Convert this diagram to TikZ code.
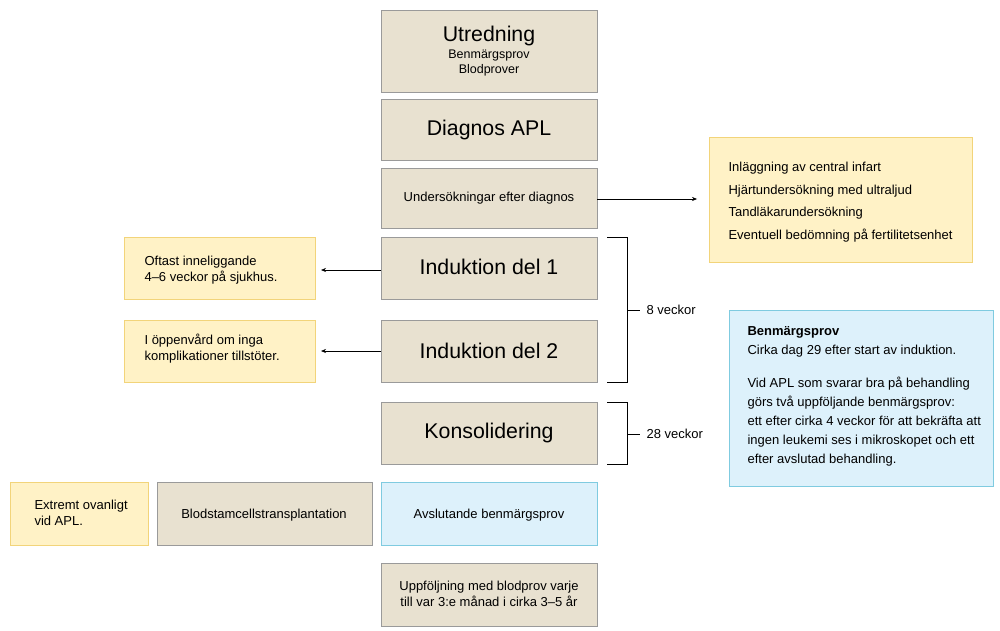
\documentclass[tikz,border=0pt]{standalone}
\usepackage{fontspec}
\setmainfont{Liberation Sans}
\usetikzlibrary{arrows.meta}
\definecolor{beige}{HTML}{E8E1D0}
\definecolor{beigeb}{HTML}{9A9A9A}
\definecolor{yel}{HTML}{FFF2C6}
\definecolor{yelb}{HTML}{F2D47A}
\definecolor{blu}{HTML}{DDF1FB}
\definecolor{blub}{HTML}{7FCBE0}
\begin{document}
\begin{tikzpicture}[x=1pt,y=-1pt,
 box/.style={draw=beigeb,fill=beige,line width=0.8pt},
 ybox/.style={draw=yelb,fill=yel,line width=0.8pt},
 bbox/.style={draw=blub,fill=blu,line width=0.8pt},
 arr/.style={-{Stealth[length=5pt,width=4pt]},line width=0.6pt},
 br/.style={line width=0.6pt},
 sm/.style={font=\fontsize{13}{16}\selectfont},
 big/.style={font=\fontsize{21.3}{24}\selectfont}]
\useasboundingbox (0,0) rectangle (1000,631);
\draw[box] (381,10) rectangle (597,92);
\node[big] (ut) at (489,36) {Utredning};
\node[sm,align=center,font=\fontsize{12.5}{15}\selectfont] (ut2) at (489,63) {Benmärgsprov\\Blodprover};
\draw[box] (381,99) rectangle (597,160); \node[big] (dia) at (489,130) {Diagnos APL};
\draw[box] (381,168) rectangle (597,228); \node[sm] (und) at (489,198) {Undersökningar efter diagnos};
\draw[box] (381,237) rectangle (597,299); \node[big] (i1) at (489,267) {Induktion del 1};
\draw[box] (381,320) rectangle (597,382); \node[big] (i2) at (489,351) {Induktion del 2};
\draw[box] (381,402) rectangle (597,464); \node[big] (kon) at (489,433) {Konsolidering};
\draw[bbox] (381,482) rectangle (597,545); \node[sm] (avs) at (489,515) {Avslutande benmärgsprov};
\draw[box] (381,563) rectangle (597,626); \node[sm,align=center] (upp) at (489,594) {Uppföljning med blodprov varje\\till var 3:e månad i cirka 3–5 år};
\draw[box] (157,482) rectangle (372,545); \node[sm] (bst) at (264,515) {Blodstamcellstransplantation};
\draw[ybox] (10,482) rectangle (148,545); \node[sm,align=left,anchor=west] (ext) at (31,513) {Extremt ovanligt\\vid APL.};
\draw[ybox] (124,237) rectangle (315,299); \node[sm,align=left,anchor=west] (oft) at (141,270) {Oftast inneliggande\\4–6 veckor på sjukhus.};
\draw[ybox] (124,320) rectangle (315,382); \node[sm,align=left,anchor=west] (opp) at (141,349) {I öppenvård om inga\\komplikationer tillstöter.};
\draw[ybox] (709,137) rectangle (972,262);
\node[sm,align=left,anchor=west,font=\fontsize{13}{22.5}\selectfont] (rl) at (725,202) {Inläggning av central infart\\Hjärtundersökning med ultraljud\\Tandläkarundersökning\\Eventuell bedömning på fertilitetsenhet};
\draw[bbox] (729,310) rectangle (993,486);
\node[sm,align=left,anchor=north west,font=\fontsize{13}{19}\selectfont] (bm) at (744,323) {\textbf{Benmärgsprov}\\Cirka dag 29 efter start av induktion.\\[14pt]Vid APL som svarar bra på behandling\\görs två uppföljande benmärgsprov:\\ett efter cirka 4 veckor för att bekräfta att\\ingen leukemi ses i mikroskopet och ett\\efter avslutad behandling.};
\coordinate (ua) at (597,199); \coordinate (ub) at (697,199);
\draw[arr] (ua) -- (ub);
\coordinate (a1) at (381,270); \coordinate (b1) at (321,270);
\draw[arr] (a1) -- (b1);
\coordinate (a2) at (381,351); \coordinate (b2) at (321,351);
\draw[arr] (a2) -- (b2);
\draw[br] (607,237) -- (627,237) -- (627,382) -- (607,382);
\draw[br] (627,310) -- (640,310);
\node[sm,anchor=west] (v8) at (643,310) {8 veckor};
\draw[br] (607,402) -- (627,402) -- (627,464) -- (607,464);
\draw[br] (627,434) -- (640,434);
\node[sm,anchor=west] (v28) at (643,434) {28 veckor};
\end{tikzpicture}
\end{document}
